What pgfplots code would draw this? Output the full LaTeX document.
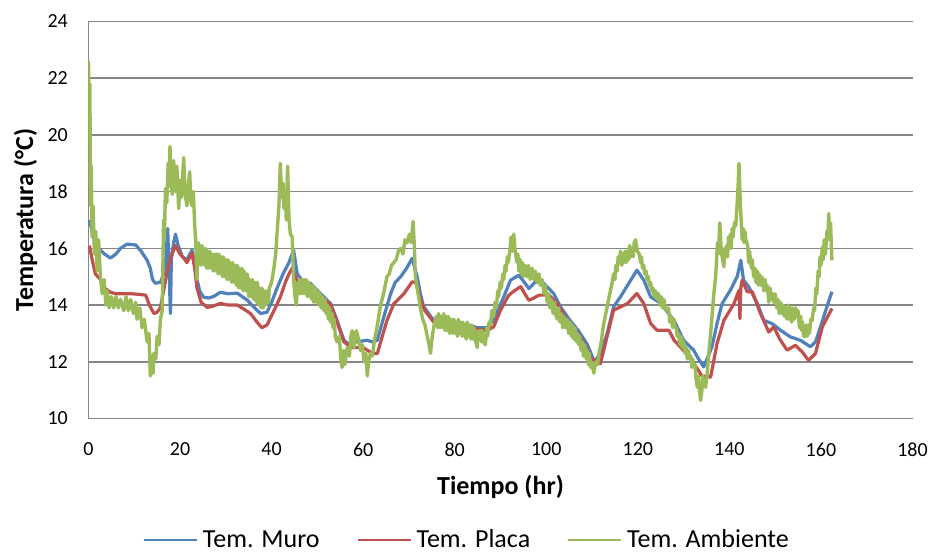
\documentclass[border=0pt]{standalone}
\usepackage{fontspec}
\setmainfont{Carlito}
\usepackage{pgfplots}
\pgfplotsset{compat=1.18}
\definecolor{cblue}{HTML}{4F81BD}
\definecolor{cred}{HTML}{C0504D}
\definecolor{cgreen}{HTML}{9BBB59}
\definecolor{gridc}{RGB}{134,134,134}
\begin{document}
\begin{tikzpicture}
\begin{axis}[
 scale only axis, width=824pt, height=397pt,
 xmin=0, xmax=180, ymin=10, ymax=24,
 xtick={0,20,...,180}, ytick={10,12,...,24},
 axis x line*=bottom, axis y line*=left,
 axis line style={draw=gridc, line width=1.5pt},
 ymajorgrids, grid style={draw=gridc, line width=1.5pt},
 major tick length=0pt,
 /pgf/number format/assume math mode=true,
 tick label style={font=\fontsize{20}{24}\selectfont, inner sep=0pt},
 x tick label style={anchor=north}, xticklabel shift=24pt,
 y tick label style={anchor=east}, yticklabel shift=20.5pt,
 xlabel={Tiempo (hr)}, ylabel={Temperatura (°C)},
 label style={font=\fontsize{26}{30}\selectfont\bfseries},
 x label style={at={(axis description cs:0.5,-0.1902)}, anchor=base, inner sep=0pt},
 y label style={at={(axis description cs:-0.0765,0.5)}, anchor=center},
 legend style={at={(axis description cs:0.458,-0.305)}, anchor=center, draw=none,
   legend columns=3, font=\fontsize{26}{30}\selectfont,
   nodes={inner sep=0pt},
   /tikz/every odd column/.append style={column sep=5pt},
   /tikz/every even column/.append style={column sep=37pt}},
 legend image code/.code={\draw[#1, line width=2pt] (0pt,0pt) -- (53pt,0pt);},
 every axis plot/.append style={line join=round},
]
\coordinate (SW) at (rel axis cs:0,0);
\coordinate (NE) at (rel axis cs:1,1);
\addplot[cblue, line width=3.2pt] coordinates {
(0.2,17.0)(0.8,16.6)(1.5,16.1)(2.6,15.94)(3.5,15.8)(4.8,15.66)(6,15.8)(7,16.0)(8.4,16.15)(10.3,16.12)(11.5,15.9)(12.8,15.58)(13.5,15.3)(14.0,14.9)(14.6,14.77)(15.7,14.8)(16.4,15.1)(16.8,15.4)(17.1,16.2)(17.3,16.7)(17.6,15.2)(17.9,13.7)(18.1,15.6)(18.6,16.2)(19.0,16.5)(19.6,16.1)(20.5,15.7)(21.5,15.6)(22.6,15.94)(23.2,15.5)(23.7,14.9)(24.3,14.5)(25.1,14.28)(26.2,14.25)(27.3,14.3)(28.8,14.45)(30.5,14.4)(32.5,14.42)(34.7,14.17)(36,13.95)(37.6,13.7)(39,13.75)(40,14.1)(41.2,14.6)(42.5,15.1)(43.8,15.5)(44.8,15.94)(45.6,15.1)(46.5,14.9)(48.5,14.76)(50.7,14.4)(52.9,14.05)(54.3,13.46)(55.8,12.76)(57,12.6)(58.5,12.7)(60.9,12.76)(62,12.7)(63.1,12.76)(64.5,13.58)(66,14.4)(67,14.8)(68.2,15.0)(69.5,15.3)(70.7,15.65)(71.8,15.0)(72.5,14.4)(73.2,13.95)(75.4,13.46)(78,13.4)(80,13.3)(83,13.3)(85,13.2)(87,13.2)(88.5,13.46)(90.7,14.29)(92.2,14.88)(94.0,15.05)(95,14.85)(96.2,14.58)(97.6,14.82)(99.5,14.76)(101.6,14.41)(103.1,13.94)(105,13.5)(107,13.1)(109,12.6)(110.5,12.0)(111.8,12.29)(113.3,13.0)(114.7,13.94)(116.2,14.29)(118,14.76)(119.8,15.23)(121.3,14.88)(122.8,14.29)(125,14.06)(127.9,13.46)(130,12.76)(132.2,12.41)(133,12.17)(134.4,11.82)(136.2,12.53)(137.3,13.35)(138.4,14.05)(140.2,14.52)(141.7,15.0)(142.5,15.58)(143.1,14.88)(144.2,14.65)(146.1,14.06)(147.5,13.46)(149.3,13.35)(151.2,13.11)(153.3,12.88)(155.5,12.76)(157.7,12.53)(158.8,12.7)(159.9,13.23)(161.3,13.94)(162.4,14.47)
};
\addlegendentry{Tem. Muro}
\addplot[cred, line width=3.2pt] coordinates {
(0.2,16.1)(0.8,15.6)(1.5,15.1)(2.6,14.9)(3.5,14.6)(4.8,14.45)(6,14.4)(7.5,14.4)(9.2,14.4)(11,14.38)(12.5,14.35)(13.3,14.0)(14.3,13.7)(15.0,13.75)(15.7,13.9)(16.4,14.5)(17.2,15.2)(18.0,15.7)(19,16.1)(20,15.8)(20.8,15.66)(21.5,15.5)(22.6,15.83)(23.2,15.3)(23.7,14.6)(24.6,14.1)(25.9,13.92)(27,13.95)(28.8,14.06)(30.5,14.0)(32.5,14.0)(34,13.85)(35.4,13.7)(36.8,13.4)(37.9,13.2)(39,13.3)(40.5,13.8)(41.9,14.28)(43,14.8)(43.8,15.1)(44.5,15.3)(45.2,15.0)(46,14.7)(48.5,14.7)(50.7,14.35)(52.9,14.0)(54.3,13.4)(55.8,12.7)(57.5,12.5)(60,12.5)(62,12.3)(63.1,12.29)(64,12.8)(65.2,13.46)(66.7,14.05)(68.9,14.4)(70.7,14.82)(71.5,14.8)(72.5,14.2)(73.5,13.8)(75.4,13.4)(78,13.35)(80,13.25)(83,13.25)(85,13.15)(87,13.1)(88.5,13.23)(90,13.82)(91.8,14.35)(93,14.5)(94.4,14.65)(95.3,14.4)(96.2,14.17)(97.3,14.25)(98.4,14.35)(100.6,14.35)(102.4,14.05)(104,13.6)(106,13.2)(108,12.7)(110,12.1)(111.8,11.93)(112.9,12.64)(114.7,13.82)(117.7,14.05)(119.8,14.41)(121.3,14.05)(122.8,13.35)(124.2,13.11)(126.8,13.11)(127.9,12.76)(130,12.4)(132,12.0)(134,11.5)(135.9,11.46)(137.3,12.64)(138.8,13.46)(141,14.05)(142.1,14.52)(142.3,13.52)(142.5,14.6)(142.8,14.88)(143.9,14.47)(145,14.47)(146.8,13.7)(148.6,13.05)(149.7,13.23)(151,12.8)(152.6,12.41)(154.4,12.58)(155.9,12.35)(157.3,12.05)(158.8,12.29)(160.3,13.23)(162.4,13.88)
};
\addlegendentry{Tem. Placa}
\addplot[cgreen, line width=3.4pt] coordinates {
(0,22.6)(0.15,20.5)(0.3,21.8)(0.45,17.5)(0.6,18.9)(0.8,16.4)(1.0,17.5)(1.3,15.8)(1.6,16.6)(1.9,15.2)(2.2,16.3)(2.6,15.0)(3.0,14.4)(3.4,14.9)(3.8,14.0)(4.1,14.5)(4.5,13.9)(5.0,14.3)(5.5,13.9)(6.0,14.3)(6.5,13.9)(7.0,14.2)(7.7,13.8)(8.2,14.3)(8.7,13.8)(9.2,14.2)(9.8,13.7)(10.3,14.1)(10.6,13.5)(11.2,13.9)(11.7,13.2)(12.2,13.5)(12.8,12.7)(13.2,13.0)(13.5,11.5)(13.8,12.2)(14.1,11.6)(14.3,12.3)(14.7,12.1)(15.0,12.9)(15.4,12.6)(15.7,13.5)(16.1,13.8)(16.4,17.0)(16.6,16.4)(16.8,18.1)(17.1,17.6)(17.4,19.0)(17.6,18.2)(17.8,19.6)(18.0,18.4)(18.3,17.9)(18.6,19.1)(19.0,18.0)(19.3,18.9)(19.7,17.4)(20.0,18.4)(20.3,17.8)(20.8,19.2)(21.1,17.9)(21.5,17.5)(21.8,18.2)(22.1,18.7)(22.4,17.6)(22.6,17.5)(22.9,18.0)(23.2,16.8)(23.4,16.3)(23.7,14.9)(24.0,16.2)(24.2,15.6)(24.4,16.1)(24.6,15.4)(24.8,16.1)(25.0,15.5)(25.2,16.0)(25.4,15.4)(25.6,16.0)(25.8,15.3)(26.0,15.9)(26.2,15.3)(26.5,15.9)(26.8,15.3)(27.0,15.8)(27.2,15.2)(27.5,15.8)(27.8,15.2)(28.0,15.8)(28.3,15.1)(28.5,15.8)(28.8,15.1)(29.0,15.7)(29.3,15.0)(29.5,15.7)(29.8,15.0)(30.0,15.6)(30.3,14.9)(30.5,15.6)(30.8,14.9)(31.0,15.5)(31.3,14.8)(31.5,15.5)(31.8,14.8)(32.0,15.4)(32.3,14.7)(32.5,15.4)(32.8,14.6)(33.0,15.3)(33.3,14.6)(33.5,15.3)(33.8,14.5)(34.0,15.2)(34.4,14.5)(34.7,15.1)(35.0,14.3)(35.2,14.9)(35.5,14.3)(35.8,14.9)(36.1,14.2)(36.4,14.8)(36.7,14.1)(36.9,14.8)(37.2,14.0)(37.4,14.6)(37.7,13.9)(37.9,14.6)(38.2,13.9)(38.4,14.5)(38.7,14.0)(39.0,14.5)(39.3,14.1)(39.5,14.6)(40.0,14.8)(40.5,15.3)(40.9,15.8)(41.3,16.8)(41.6,17.5)(41.9,19.0)(42.2,17.8)(42.5,18.3)(42.7,17.4)(43.0,18.0)(43.2,17.0)(43.5,18.9)(43.8,17.0)(44.1,16.5)(44.5,16.4)(44.8,14.9)(45.1,14.3)(45.4,14.0)(45.7,14.8)(45.9,14.4)(46.1,14.9)(46.3,14.4)(46.6,14.9)(46.8,14.4)(47.1,14.9)(47.3,14.4)(47.6,14.9)(47.8,14.3)(48.1,14.8)(48.3,14.3)(48.6,14.7)(48.8,14.2)(49.0,14.7)(49.2,14.1)(49.5,14.6)(49.8,14.1)(50.1,14.5)(50.3,14.0)(50.6,14.4)(50.8,13.9)(51.1,14.3)(51.4,13.8)(51.7,14.2)(51.9,13.7)(52.2,14.0)(52.4,13.5)(52.7,13.9)(52.9,13.4)(53.2,13.7)(53.4,13.2)(53.7,13.5)(53.9,12.9)(54.3,12.7)(54.8,12.9)(55.1,12.1)(55.4,11.8)(55.7,12.4)(56.0,11.9)(56.5,12.5)(57.0,12.2)(57.3,12.9)(57.6,13.1)(58.0,12.5)(58.5,13.1)(59.0,12.8)(59.4,12.4)(59.8,12.6)(60.2,12.0)(60.6,12.3)(60.9,11.5)(61.2,12.0)(61.6,12.3)(62.0,12.2)(62.5,12.8)(63.0,13.2)(63.5,13.7)(63.8,14.0)(64.3,14.3)(64.7,14.6)(65.2,15.0)(65.7,15.1)(66.2,15.4)(66.7,15.5)(67.2,15.6)(67.7,15.9)(68.2,16.0)(68.7,15.8)(69.1,16.3)(69.6,16.2)(70.1,16.5)(70.5,16.2)(70.9,16.95)(71.2,16.0)(71.4,15.0)(71.8,14.6)(72.2,14.2)(72.5,13.9)(73.0,13.5)(73.5,13.3)(74.0,12.9)(74.4,12.6)(74.7,12.3)(75.1,12.9)(75.5,13.3)(76.0,13.6)(76.3,13.2)(76.5,13.7)(76.8,13.2)(77.0,13.6)(77.3,13.2)(77.6,13.7)(77.9,13.1)(78.1,13.6)(78.4,13.1)(78.6,13.6)(78.9,13.0)(79.2,13.5)(79.5,13.0)(79.8,13.5)(80.1,13.0)(80.3,13.4)(80.6,12.9)(80.8,13.5)(81.1,13.0)(81.3,13.4)(81.6,12.9)(81.8,13.4)(82.1,12.9)(82.3,13.3)(82.5,12.8)(82.7,13.4)(83.0,12.9)(83.2,13.3)(83.5,12.8)(83.7,13.3)(84.0,12.8)(84.2,13.2)(84.6,12.7)(84.9,12.5)(85.1,13.1)(85.3,12.8)(85.6,13.1)(85.8,12.7)(86.0,13.1)(86.3,12.7)(86.7,12.6)(87.0,13.2)(87.2,12.9)(87.5,13.4)(87.8,13.3)(88.1,13.8)(88.5,13.6)(88.8,14.1)(89.1,13.9)(89.4,14.5)(89.6,14.3)(89.9,14.8)(90.2,14.6)(90.5,15.1)(90.7,14.9)(91.0,15.4)(91.2,15.2)(91.5,15.7)(91.7,15.5)(92.1,16.0)(92.3,16.4)(92.6,15.9)(92.9,16.5)(93.2,15.9)(93.6,15.5)(93.8,15.8)(94.0,15.2)(94.3,15.6)(94.5,15.1)(94.8,15.5)(95.0,15.0)(95.4,15.4)(95.8,15.0)(96.1,15.4)(96.5,14.9)(96.9,15.3)(97.3,14.9)(97.6,15.2)(98.0,14.8)(98.4,15.1)(98.7,14.7)(99.1,14.9)(99.5,14.4)(99.8,14.7)(100.2,14.1)(100.5,14.4)(100.8,13.9)(101.1,14.2)(101.5,13.7)(101.8,14.1)(102.0,13.7)(102.4,13.5)(102.7,13.9)(103.0,13.4)(103.3,13.7)(103.6,13.2)(103.9,13.6)(104.2,13.2)(104.6,13.5)(104.9,13.0)(105.2,13.4)(105.5,12.9)(105.7,13.3)(106.0,12.8)(106.3,13.2)(106.6,12.7)(106.8,13.0)(107.1,12.6)(107.3,12.9)(107.6,12.4)(107.9,12.7)(108.1,12.2)(108.4,12.6)(108.7,12.1)(108.9,12.4)(109.2,11.9)(109.4,12.3)(109.7,11.8)(109.9,12.0)(110.4,11.6)(110.8,12.0)(111.2,11.9)(111.5,12.3)(112.0,12.7)(112.5,13.3)(113.0,13.7)(113.5,14.1)(114.0,14.5)(114.4,14.8)(114.7,15.1)(115.0,14.9)(115.2,15.4)(115.5,15.2)(115.7,15.7)(116.0,15.5)(116.2,15.9)(116.5,15.4)(116.7,15.8)(117.0,15.5)(117.2,15.9)(117.5,15.5)(117.7,15.9)(118.0,15.6)(118.2,16.1)(118.5,15.7)(118.7,16.0)(119.0,15.7)(119.2,16.2)(119.5,16.3)(119.9,15.9)(120.3,15.8)(120.6,15.5)(120.8,15.7)(121.0,15.3)(121.3,15.4)(121.5,15.1)(121.8,15.2)(122.0,14.9)(122.3,15.0)(122.5,14.7)(122.8,14.8)(123.0,14.5)(123.3,14.6)(123.6,14.3)(123.9,14.5)(124.2,14.2)(124.5,14.4)(124.8,14.0)(125.1,14.3)(125.4,13.9)(125.7,14.2)(126.0,13.9)(126.4,13.8)(126.7,13.9)(127.0,13.4)(127.3,13.6)(127.6,13.2)(127.9,13.5)(128.1,13.2)(128.4,13.2)(128.6,12.9)(128.9,13.0)(129.2,12.6)(129.5,12.9)(129.7,12.5)(130.0,12.7)(130.3,12.3)(130.6,12.5)(130.8,12.1)(131.1,12.4)(131.3,12.1)(131.6,12.2)(131.8,11.8)(132.0,12.1)(132.3,11.8)(132.5,11.9)(132.7,11.4)(133.0,11.1)(133.2,11.5)(133.4,11.1)(133.7,10.64)(134.0,11.0)(134.2,11.5)(134.4,11.2)(134.8,11.1)(135.1,11.5)(135.5,12.3)(135.9,13.0)(136.3,13.8)(136.6,14.4)(137.0,15.0)(137.4,16.2)(137.6,15.8)(137.9,16.9)(138.2,16.0)(138.5,15.6)(138.8,15.35)(139.0,16.0)(139.2,15.7)(139.4,16.1)(139.6,15.7)(139.8,16.4)(140.0,16.0)(140.2,16.5)(140.4,16.0)(140.6,16.7)(140.8,16.4)(141.1,16.9)(141.4,16.8)(141.7,17.6)(141.9,18.2)(142.1,19.0)(142.4,17.5)(142.6,16.9)(142.8,16.3)(143.0,16.7)(143.2,16.2)(143.4,16.6)(143.6,16.3)(144.0,16.1)(144.2,15.5)(144.4,15.9)(144.8,15.3)(145.0,15.6)(145.3,15.0)(145.6,15.3)(145.8,14.8)(146.1,15.2)(146.3,14.7)(146.5,15.1)(146.8,14.7)(147.1,15.0)(147.5,14.5)(147.8,14.9)(148.0,14.5)(148.3,14.7)(148.6,14.1)(148.9,14.6)(149.2,14.2)(149.5,14.4)(149.7,14.1)(150.0,14.4)(150.3,13.9)(150.6,14.2)(150.9,13.7)(151.2,14.1)(151.5,13.7)(151.8,14.0)(152.0,13.6)(152.3,13.9)(152.6,13.5)(152.9,14.0)(153.1,13.5)(153.4,13.9)(153.6,13.4)(153.9,13.9)(154.2,13.5)(154.5,13.9)(154.8,13.6)(155.0,13.8)(155.3,13.2)(155.6,13.6)(155.8,13.1)(156.0,13.4)(156.2,12.9)(156.6,12.9)(156.8,13.3)(157.0,12.9)(157.3,13.3)(157.5,13.0)(157.8,13.5)(158.1,13.46)(158.4,13.9)(158.6,13.8)(158.9,14.6)(159.1,14.4)(159.4,15.2)(159.6,15.0)(159.8,15.7)(160.0,15.4)(160.3,16.05)(160.5,15.6)(160.7,16.3)(161.0,15.8)(161.3,16.6)(161.5,16.3)(161.7,17.23)(161.9,16.3)(162.1,16.9)(162.4,15.58)
};
\addlegendentry{Tem. Ambiente}
\end{axis}
\pgfresetboundingbox
\path ([xshift=-88.5pt,yshift=-135.5pt]SW) rectangle ([xshift=19.5pt,yshift=21.5pt]NE);
\end{tikzpicture}
\end{document}
